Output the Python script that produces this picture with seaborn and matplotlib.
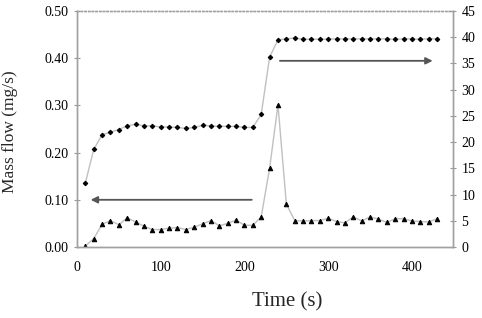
import matplotlib
matplotlib.use("Agg")
import matplotlib.pyplot as plt
import seaborn as sns
import pandas as pd

time_s = [10, 20, 30, 40, 50, 60, 70, 80, 90, 100, 110, 120, 130, 140, 150, 160, 170, 180, 190, 200,
          210, 220, 230, 240, 250, 260, 270, 280, 290, 300, 310, 320, 330, 340, 350, 360, 370, 380,
          390, 400, 410, 420, 430]
mass_flow = [0.002, 0.018, 0.048, 0.056, 0.047, 0.062, 0.053, 0.044, 0.037, 0.037, 0.040, 0.041,
             0.037, 0.042, 0.049, 0.056, 0.045, 0.050, 0.057, 0.046, 0.046, 0.064, 0.167, 0.301,
             0.091, 0.056, 0.055, 0.056, 0.056, 0.061, 0.054, 0.051, 0.064, 0.055, 0.064, 0.059,
             0.052, 0.060, 0.060, 0.055, 0.054, 0.053, 0.060]
right_series = [12.2, 18.6, 21.4, 21.9, 22.4, 23.1, 23.4, 23.1, 23.1, 22.9, 22.9, 22.8, 22.6, 22.8,
                23.2, 23.1, 23.0, 23.0, 23.0, 22.8, 22.8, 25.3, 36.2, 39.5, 39.7, 39.85, 39.6, 39.65,
                39.6, 39.65, 39.7, 39.7, 39.7, 39.7, 39.7, 39.7, 39.7, 39.6, 39.7, 39.7, 39.6, 39.75,
                39.7]
left_ticks = [0.0, 0.1, 0.2, 0.3, 0.4, 0.5]
left_ticklabels = ["0.00", "0.10", "0.20", "0.30", "0.40", "0.50"]
right_ticks = [0, 5, 10, 15, 20, 25, 30, 35, 40, 45]
x_ticks = [0, 100, 200, 300, 400]

df = pd.DataFrame({"time": time_s, "mass": mass_flow, "right": right_series})

sns.set_style("white")
plt.rcParams["font.family"] = ["Liberation Serif", "DejaVu Serif"]

fig = plt.figure(figsize=(4.82, 3.18), dpi=100)
ax = fig.add_axes([77 / 482, 1 - 247 / 318, (453 - 77) / 482, (247 - 11) / 318])
ax2 = ax.twinx()

sns.lineplot(data=df, x="time", y="mass", ax=ax, color="#c0c0c0", lw=1.0,
             marker="^", markersize=3.2, markerfacecolor="black", markeredgecolor="black")
sns.lineplot(data=df, x="time", y="right", ax=ax2, color="#c0c0c0", lw=1.0,
             marker="D", markersize=2.3, markerfacecolor="black", markeredgecolor="black")

ax.set_xlim(0, 449)
ax.set_ylim(0, 0.5)
ax2.set_ylim(0, 45)
ax.set_xticks(x_ticks)
ax.set_yticks(left_ticks)
ax.set_yticklabels(left_ticklabels)
ax2.set_yticks(right_ticks)

ax.set_xlabel("Time (s)", fontsize=15)
ax.set_ylabel("Mass flow (mg/s)", fontsize=12.5)
ax.xaxis.set_label_coords(0.558, -0.19)
ax.yaxis.set_label_coords(-0.157, 0.487)
ax2.set_ylabel("")

for a in (ax, ax2):
    a.tick_params(labelsize=10, direction="inout", length=4, width=0.8, colors="#999999",
                  labelcolor="black")
    for s in a.spines.values():
        s.set_color("#a0a0a0")
        s.set_linewidth(1.0)
ax.tick_params(axis="x", pad=8)
ax.tick_params(axis="y", pad=4)
ax2.tick_params(axis="y", pad=4)
ax.spines["top"].set_linestyle(":")
ax2.spines["top"].set_linestyle(":")

ax.annotate("", xy=(13, 0.10), xytext=(212, 0.10),
            arrowprops=dict(arrowstyle="-|>", color="#555555", lw=1.3, mutation_scale=10))
ax2.annotate("", xy=(428, 35.5), xytext=(239, 35.5),
             arrowprops=dict(arrowstyle="-|>", color="#555555", lw=1.3, mutation_scale=10))

fig.savefig("out.png", dpi=100)
